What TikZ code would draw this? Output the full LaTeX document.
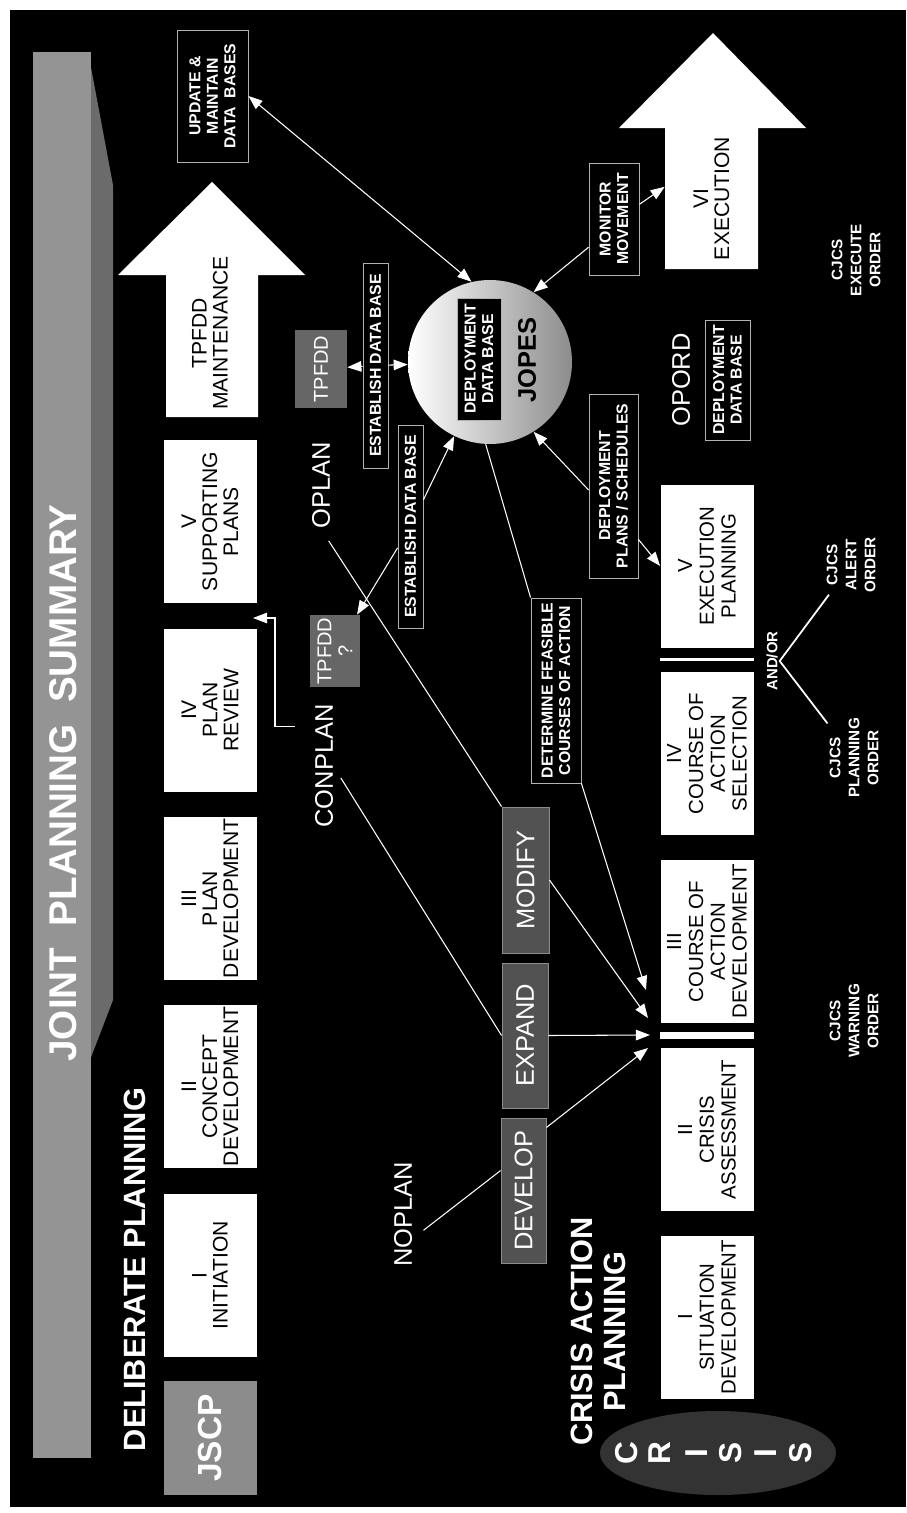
\documentclass[tikz,border=0pt]{standalone}
\usepackage{fontspec}
\setmainfont{Liberation Sans}
\usepackage{tikz}
\usetikzlibrary{arrows.meta,calc}

\begin{document}
\begin{tikzpicture}[x=0.2mm,y=-0.2mm,
  phase/.style={rotate=90,fill=white,text=black,align=center,inner sep=0pt,minimum width=32.6mm,minimum height=18.6mm,font=\fontsize{12}{12}\selectfont},
  cphase/.style={phase,font=\fontsize{11.6}{12.4}\selectfont},
  lbl/.style={rotate=90,fill=black,draw=white!70!black,line width=0.5pt,text=white,align=center,inner sep=0pt,font=\bfseries\fontsize{9}{10}\selectfont},
  tpf/.style={rotate=90,fill=black!60,text=white,align=center,inner sep=0pt,font=\fontsize{11.4}{12}\selectfont},
  grbox/.style={rotate=90,fill=black!68,draw=white!55!black,line width=0.5pt,text=white,inner sep=0pt,font=\fontsize{14.5}{15}\selectfont},
  plan/.style={rotate=90,text=white,inner sep=0pt,font=\fontsize{14.5}{15}\selectfont},
  order/.style={rotate=90,text=white,align=center,inner sep=1pt,font=\bfseries\fontsize{8.7}{10.8}\selectfont},
  head/.style={rotate=90,text=white,align=center,inner sep=0pt,font=\bfseries\fontsize{17.5}{18.5}\selectfont},
  letter/.style={rotate=90,text=white,inner sep=0pt,font=\bfseries\fontsize{18}{18}\selectfont},
  conn/.style={white,line width=0.6pt},
  arr/.style={conn,-{Triangle[length=8pt,width=6pt]}},
  dbl/.style={conn,{Triangle[length=8pt,width=6pt]}-{Triangle[length=8pt,width=6pt]}},
  sep/.style={white,line width=1.7pt}]
\useasboundingbox (0,0) rectangle (906,1513);
\fill[white] (0,0) rectangle (906,1513);
\fill[black] (10,10) rectangle (906,1507);

% title band
\fill[black!58] (90,62) -- (113,185) -- (113,1000) -- (90,1060) -- cycle;
\fill[black!42] (33,52) rectangle (91,1458);
\node[head,font=\bfseries\fontsize{22}{22}\selectfont] (title) at (63,783) {JOINT~~PLANNING~~SUMMARY};

% deliberate planning
\node[head] (delib) at (134.5,1269.5) {DELIBERATE PLANNING};
\node[phase,fill=black!45,text=white,minimum width=22.8mm,font=\bfseries\fontsize{19}{19}\selectfont] (jscp) at (210,1438) {JSCP};
\node[phase] (dp1) at (210,1275.5) {I\\INITIATION};
\node[phase] (dp2) at (210,1086.5) {II\\CONCEPT\\DEVELOPMENT};
\node[phase] (dp3) at (210,898.5) {III\\PLAN\\DEVELOPMENT};
\node[phase] (dp4) at (210,710) {IV\\PLAN\\REVIEW};
\node[phase] (dp5) at (210,521.5) {V\\SUPPORTING\\PLANS};
\fill[white] (166,417) -- (166,275) -- (118,275) -- (212,182) -- (305,275) -- (258,275) -- (258,417) -- cycle;
\node[rotate=90,align=center,inner sep=0pt,font=\fontsize{12}{12}\selectfont] (tpmaint) at (210,333) {TPFDD\\MAINTENANCE};
\node[lbl,minimum width=26.4mm,minimum height=14.2mm] (update) at (212.5,96) {UPDATE \&\\MAINTAIN\\DATA~~BASES};

% plans and data bases
\node[tpf,minimum width=15.6mm,minimum height=10.4mm] (tpf1) at (321,369) {TPFDD};
\node[tpf,minimum width=14.4mm,minimum height=10mm] (tpf2) at (335,651) {TPFDD\\?};
\node[lbl,minimum width=41mm,minimum height=5mm] (est1) at (375.5,365.5) {ESTABLISH DATA BASE};
\node[lbl,minimum width=40.6mm,minimum height=5mm] (est2) at (410.5,526.5) {ESTABLISH DATA BASE};
\node[plan] (oplan) at (321,485.5) {OPLAN};
\node[plan] (conplan) at (324,766) {CONPLAN};
\node[plan] (noplan) at (403,1214.5) {NOPLAN};
\node[plan] (opord) at (681,380) {OPORD};

\node[circle,minimum size=32.8mm,inner sep=0pt,left color=white,right color=black!45] (jopes) at (490,362) {};
\node[lbl,minimum width=24.4mm,minimum height=8.8mm] (ddb) at (479,359) {DEPLOYMENT\\DATA BASE};
\node[rotate=90,inner sep=0pt,font=\bfseries\fontsize{14.5}{15}\selectfont] (jopestxt) at (527,360) {JOPES};

\node[lbl,minimum width=22.4mm,minimum height=10mm] (mon) at (614,219) {MONITOR\\MOVEMENT};
\node[lbl,minimum width=36.8mm,minimum height=9.8mm] (dplans) at (613.5,486) {DEPLOYMENT\\PLANS / SCHEDULES};
\node[lbl,minimum width=37mm,minimum height=10mm] (det) at (556,690.5) {DETERMINE FEASIBLE\\COURSES OF ACTION};
\node[lbl,minimum width=24mm,minimum height=9mm] (oddb) at (727.5,380) {DEPLOYMENT\\DATA BASE};

\node[grbox,minimum width=29.2mm,minimum height=9.4mm] (modify) at (525.5,880) {MODIFY};
\node[grbox,minimum width=29mm,minimum height=9.2mm] (expand) at (525,1035.5) {EXPAND};
\node[grbox,minimum width=29mm,minimum height=9mm] (develop) at (523.5,1190.5) {DEVELOP};

% crisis action planning
\fill[black!80] (718,1453) ellipse [x radius=23.6mm,y radius=8.4mm];
\foreach \ch/\xx [count=\i] in {C/627,R/660,I/697,S/731,I/766,S/801}
  \node[letter] (cr\i) at (\xx,1453) {\ch};
\node[head] (capttl) at (598.5,1331.5) {CRISIS ACTION\\PLANNING};
\node[cphase] (cap1) at (707,1317) {I\\SITUATION\\DEVELOPMENT};
\node[cphase] (cap2) at (707,1129.5) {II\\CRISIS\\ASSESSMENT};
\node[cphase] (cap3) at (707,941.5) {III\\COURSE OF\\ACTION\\DEVELOPMENT};
\node[cphase] (cap4) at (707,753.5) {IV\\COURSE OF\\ACTION\\SELECTION};
\node[cphase] (cap5) at (707,566) {V\\EXECUTION\\PLANNING};
\fill[white] (665,269) -- (665,128) -- (619,128) -- (713,33) -- (806,128) -- (758,128) -- (758,269) -- cycle;
\node[phase,minimum width=28.2mm,minimum height=18.6mm] (exec) at (711.5,198.5) {VI\\EXECUTION};
\draw[sep] ($(cap5.south west)!.5!(cap4.south east)$) -- ($(cap5.north west)!.5!(cap4.north east)$);
\draw[sep,line width=3.5pt] ($(cap3.south west)!.5!(cap2.south east)$) -- ($(cap3.north west)!.5!(cap2.north east)$);

\node[order] (cjexe) at (856,260) {CJCS\\EXECUTE\\ORDER};
\node[order] (cjalert) at (851,565) {CJCS\\ALERT\\ORDER};
\node[order] (cjplan) at (854,758) {CJCS\\PLANNING\\ORDER};
\node[order] (cjwarn) at (854,1021) {CJCS\\WARNING\\ORDER};
\node[order,font=\bfseries\fontsize{8.5}{9}\selectfont] (andor) at (772,661) {AND/OR};
\draw[white,line width=1pt] (cjalert) -- (andor.south) -- (cjplan);

% connectors
\coordinate (tgtA) at (646,990);
\coordinate (tgtB) at (648,1018);
\coordinate (tgtC) at (650,1035);
\coordinate (tgtD) at (648,1048);
\coordinate (gapIV) at (253,618);
\draw[dbl] (update.south) -- (jopes.103);
\draw[arr] (est1) -- (tpf1);
\draw[arr] (est1) -- (jopes);
\draw[arr] (est2) -- (tpf2);
\draw[arr] (est2) -- (jopes);
\draw[arr] (mon.138) -- (jopes.58);
\draw[arr] (mon.-60) -- (exec.76);
\draw[arr] (dplans.99) -- (jopes.-58);
\draw[arr] (dplans.-155) -- (cap5.north);
\draw[conn] (jopes.-93) -- (det.north east);
\draw[arr] (det.south west) -- (tgtA);
\draw[conn,shorten <=8pt] (oplan.west) -- (modify.north east);
\draw[arr] (modify.south) -- (tgtB);
\draw[conn,shorten <=8pt] (conplan.south) -- (expand.north);
\draw[arr] (expand.south) -- (tgtC);
\draw[conn,shorten <=8pt] (noplan.-159) -- (develop.49);
\draw[arr] (develop.-20) -- (tgtD);
\draw[arr] ($(conplan.north east)+(-20,22)$) -| ($(gapIV)+(22,0)$) -- (gapIV);
\end{tikzpicture}
\end{document}
